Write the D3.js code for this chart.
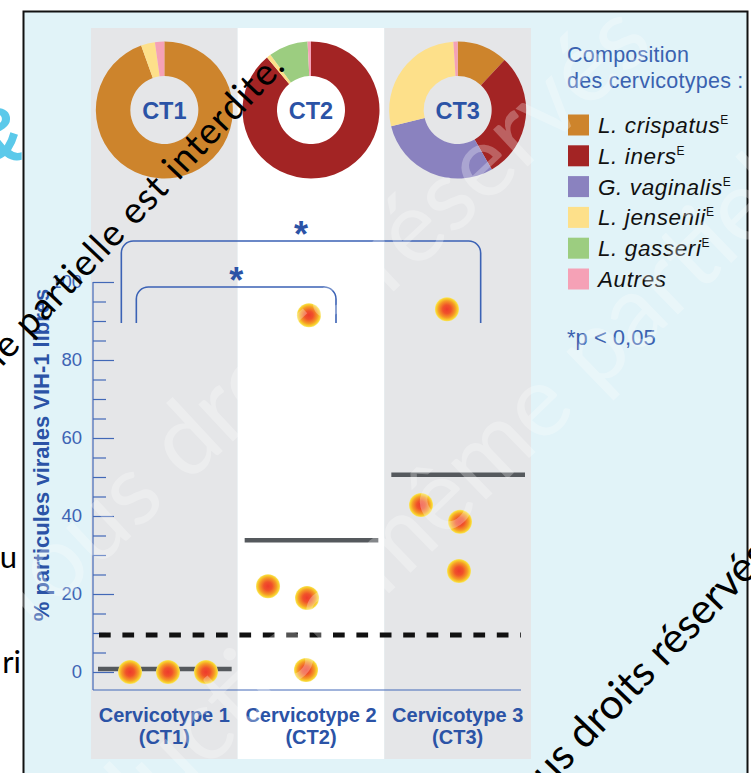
<!DOCTYPE html>
<html>
<head>
<meta charset="utf-8">
<script src="https://cdn.jsdelivr.net/npm/d3@7"></script>
<style>
  html, body { margin: 0; padding: 0; background: #ffffff; }
  svg { display: block; }
</style>
</head>
<body>
<svg id="chart" width="751" height="773"></svg>
<script>
// ---- data ----
const cervicotypes = ["CT1", "CT2", "CT3"];
const groupLabels = ["Cervicotype 1", "Cervicotype 2", "Cervicotype 3"];
const groupSubLabels = ["(CT1)", "(CT2)", "(CT3)"];

const species = ["L. crispatus", "L. iners", "G. vaginalis", "L. jensenii", "L. gasseri", "Autres"];
const speciesSup = ["E", "E", "E", "E", "E", ""];
const speciesColors = ["#cd842c", "#a32424", "#8a82bf", "#fde08a", "#9ccd80", "#f5a1b6"];

// share of each species (%) in every cervicotype, in the order of `species`
const compCT1 = [94.5, 0, 0, 3.3, 0, 2.2];
const compCT2 = [0, 88.9, 0, 1.0, 9.3, 0.8];
const compCT3 = [12.0, 29.7, 29.5, 27.8, 0, 1.0];

// % free HIV-1 viral particles per sample
const valuesCT1 = [0, 0, 0];
const valuesCT2 = [91.5, 22, 19, 0.5];
const valuesCT3 = [93, 42.8, 38.5, 25.9];
// horizontal spread of the dots inside each column (fraction of column width)
const jitterCT1 = [-0.234, 0.025, 0.284];
const jitterCT2 = [-0.014, -0.293, -0.027, -0.034];
const jitterCT3 = [-0.073, -0.25, 0.016, 0.009];

const meansCT = [0.8, 33.8, 50.6];
const detectionLimit = 9.5;

const yMinorTicks = d3.range(0, 101, 5);
const yMajorTicks = [0, 20, 40, 60, 80, 100];
const yTitle = "% particules virales VIH-1 libres";

const comparisons = [
  { a: "CT1", b: "CT3", label: "*" },
  { a: "CT1", b: "CT2", label: "*" }
];
const legendTitle = ["Composition", "des cervicotypes :"];
const pNote = "*p < 0,05";

// ---- layout ----
const svg = d3.select("#chart");
const W = 751, H = 773;
const BLUE = "#2b53a6";
const AXIS_BLUE = "#4268b7";
const SANS = "'Liberation Sans', Arial, Helvetica, sans-serif";

const x = d3.scaleBand().domain(cervicotypes).range([91, 531]);
const y = d3.scaleLinear().domain([0, 100]).range([672, 282]);

const compositions = [compCT1, compCT2, compCT3];
const groupValues = [valuesCT1, valuesCT2, valuesCT3];
const groupJitter = [jitterCT1, jitterCT2, jitterCT3];

// gradient for the dots
const defs = svg.append("defs");
const grad = defs.append("radialGradient").attr("id", "dotGrad")
  .attr("cx", "50%").attr("cy", "50%").attr("r", "50%");
grad.append("stop").attr("offset", "0%").attr("stop-color", "#ee3a2c");
grad.append("stop").attr("offset", "35%").attr("stop-color", "#f0522a");
grad.append("stop").attr("offset", "70%").attr("stop-color", "#f59a26");
grad.append("stop").attr("offset", "90%").attr("stop-color", "#f8d22e");
grad.append("stop").attr("offset", "100%").attr("stop-color", "#fae468");

// frame
svg.append("rect")
  .attr("x", 23.5).attr("y", 11.5).attr("width", 724).attr("height", H + 20)
  .attr("fill", "#e1f3f8").attr("stroke", "#111").attr("stroke-width", 2);

// column panels
const panelTop = 28, panelBottom = 759;
svg.append("g").selectAll("rect").data(cervicotypes).join("rect")
  .attr("x", d => x(d)).attr("y", panelTop)
  .attr("width", x.bandwidth()).attr("height", panelBottom - panelTop)
  .attr("fill", (d, i) => i === 1 ? "#ffffff" : "#e5e6e8");

// donuts
const pie = d3.pie().sort(null).value(d => d);
const arc = d3.arc().innerRadius(34).outerRadius(68.5);
const pieY = 110;
cervicotypes.forEach((ct, i) => {
  const g = svg.append("g").attr("transform", `translate(${x(ct) + x.bandwidth() / 2},${pieY})`);
  g.selectAll("path").data(pie(compositions[i])).join("path")
    .attr("d", arc)
    .attr("fill", (d, j) => speciesColors[j]);
  g.append("text").attr("text-anchor", "middle").attr("y", 8.5)
    .attr("font-family", SANS).attr("font-weight", "bold").attr("font-size", 23.5)
    .attr("fill", BLUE).text(ct);
});

// y axis
const axisX = x.range()[0] + 2;
const yAxisG = svg.append("g").attr("transform", `translate(${axisX},0)`);
yAxisG.call(d3.axisRight(y).tickValues(yMinorTicks).tickFormat("").tickSizeOuter(0));
yAxisG.select(".domain").remove();
yAxisG.selectAll(".tick line")
  .attr("x2", d => d % 20 === 0 ? 21 : 13)
  .attr("stroke", AXIS_BLUE).attr("stroke-width", 1.2);
const baselineY = y(0) + 18;
yAxisG.append("line")
  .attr("x1", 0).attr("x2", 0).attr("y1", y(100)).attr("y2", baselineY)
  .attr("stroke", AXIS_BLUE).attr("stroke-width", 1.2);

const yLabelG = svg.append("g").attr("transform", `translate(${axisX},0)`);
yLabelG.call(d3.axisLeft(y).tickValues(yMajorTicks).tickSize(0).tickPadding(11));
yLabelG.select(".domain").remove();
yLabelG.selectAll(".tick text")
  .attr("font-family", SANS).attr("font-size", 18.5).attr("fill", "#3d64b4");

svg.append("text")
  .attr("transform", `translate(49,455) rotate(-90)`)
  .attr("text-anchor", "middle")
  .attr("font-family", SANS).attr("font-weight", "bold").attr("font-size", 22)
  .attr("fill", BLUE).text(yTitle);

// x baseline
svg.append("line")
  .attr("x1", axisX).attr("x2", x.range()[1] - 10)
  .attr("y1", baselineY).attr("y2", baselineY)
  .attr("stroke", AXIS_BLUE).attr("stroke-width", 1.2);

// column labels
cervicotypes.forEach((ct, i) => {
  const cx = x(ct) + x.bandwidth() / 2;
  svg.append("text").attr("x", cx).attr("y", 722).attr("text-anchor", "middle")
    .attr("font-family", SANS).attr("font-weight", "bold").attr("font-size", 20)
    .attr("fill", BLUE).text(groupLabels[i]);
  svg.append("text").attr("x", cx).attr("y", 744).attr("text-anchor", "middle")
    .attr("font-family", SANS).attr("font-weight", "bold").attr("font-size", 20)
    .attr("fill", BLUE).text(groupSubLabels[i]);
});

// detection limit
svg.append("line")
  .attr("x1", x.range()[0] + 8).attr("x2", x.range()[1] - 10)
  .attr("y1", y(detectionLimit)).attr("y2", y(detectionLimit))
  .attr("stroke", "#111").attr("stroke-width", 5)
  .attr("stroke-dasharray", "11.7,11.7");

// mean bars
svg.append("g").selectAll("line").data(cervicotypes).join("line")
  .attr("x1", d => x(d) + 7).attr("x2", d => x(d) + x.bandwidth() - 6)
  .attr("y1", (d, i) => y(meansCT[i])).attr("y2", (d, i) => y(meansCT[i]))
  .attr("stroke", "#55595d").attr("stroke-width", 4.5);

// dots
const dots = [];
cervicotypes.forEach((ct, i) => {
  groupValues[i].forEach((v, k) => dots.push({ ct, v, j: groupJitter[i][k] }));
});
svg.append("g").selectAll("circle").data(dots).join("circle")
  .attr("cx", d => x(d.ct) + x.bandwidth() / 2 + d.j * x.bandwidth())
  .attr("cy", d => y(d.v))
  .attr("r", 12)
  .attr("fill", "url(#dotGrad)");

// significance brackets
const bracketBottom = y(89.5);
const bracketTops = [y(100) - 41, y(100) + 5];
const bracketOffsets = [[-43, 23], [-28, 25]];
comparisons.forEach((c, i) => {
  const x0 = x(c.a) + x.bandwidth() / 2 + bracketOffsets[i][0];
  const x1 = x(c.b) + x.bandwidth() / 2 + bracketOffsets[i][1];
  const top = bracketTops[i], r = 12;
  const p = d3.path();
  p.moveTo(x0, bracketBottom);
  p.lineTo(x0, top + r);
  p.arcTo(x0, top, x0 + r, top, r);
  p.lineTo(x1 - r, top);
  p.arcTo(x1, top, x1, top + r, r);
  p.lineTo(x1, bracketBottom);
  svg.append("path").attr("d", p.toString())
    .attr("fill", "none").attr("stroke", "#3b62b5").attr("stroke-width", 1.6);
  svg.append("text").attr("x", (x0 + x1) / 2).attr("y", top + 6)
    .attr("text-anchor", "middle")
    .attr("font-family", SANS).attr("font-weight", "bold").attr("font-size", 36)
    .attr("fill", BLUE).text(c.label);
});

// legend
const lg = svg.append("g").attr("transform", "translate(567,0)");
legendTitle.forEach((t, i) => {
  lg.append("text").attr("x", 0).attr("y", 62 + i * 26)
    .attr("font-family", SANS).attr("font-size", 21.5).attr("letter-spacing", 0.25)
    .attr("fill", "#3a62b0").text(t);
});
species.forEach((s, i) => {
  const cy = 125 + i * 30.8;
  lg.append("rect").attr("x", 1).attr("y", cy - 10.5).attr("width", 21).attr("height", 21)
    .attr("fill", speciesColors[i]);
  const t = lg.append("text").attr("x", 31).attr("y", cy + 8)
    .attr("font-family", SANS).attr("font-size", 22.5).attr("fill", "#111");
  t.append("tspan").attr("font-style", "italic").attr("letter-spacing", 0.6).text(s);
  if (speciesSup[i]) {
    t.append("tspan").attr("font-size", 12).attr("dy", -9).text(speciesSup[i]);
  }
});
lg.append("text").attr("x", 0).attr("y", 345)
  .attr("font-family", SANS).attr("font-size", 22).attr("fill", "#3a62b0").text(pNote);

// faint protective overlay
const wm = svg.append("g").attr("opacity", 0.28)
  .attr("font-family", "Lato, 'Open Sans', sans-serif").attr("font-size", 100).attr("fill", "#ffffff");
wm.append("text").attr("transform", "translate(20,640) rotate(-43)").text("Tous droits réservés");
wm.append("text").attr("transform", "translate(-61,1028) rotate(-44)").text("Reproduction même partielle interdite");

// overlaid notices and fragments
const notice = svg.append("g").attr("font-family", "Lato, 'Open Sans', sans-serif").attr("fill", "#000");
notice.append("text").attr("transform", "translate(287,67) rotate(-46.5)")
  .attr("text-anchor", "end").attr("font-size", 37).attr("letter-spacing", 1.2)
  .text("Toute reproduction même partielle est interdite.");
notice.append("text").attr("transform", "translate(518,820) rotate(-46)")
  .attr("font-size", 42).text("Tous droits réservés");
notice.append("text").attr("x", 17).attr("y", 568).attr("text-anchor", "end")
  .attr("font-size", 31).text("u");
notice.append("text").attr("x", 21).attr("y", 673).attr("text-anchor", "end")
  .attr("font-size", 31).text("ri");
svg.append("text").attr("x", 24).attr("y", 160).attr("text-anchor", "end")
  .attr("font-family", SANS).attr("font-weight", "bold").attr("font-size", 74)
  .attr("fill", "#5bc9ea").text("&");
</script>
</body>
</html>
